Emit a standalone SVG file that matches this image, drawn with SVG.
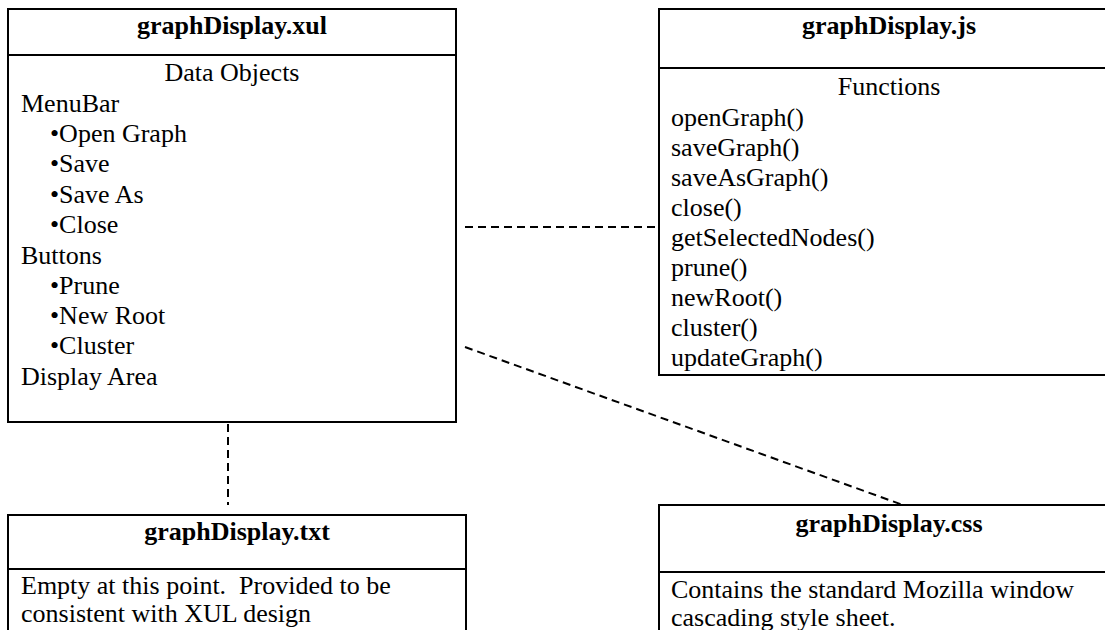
<svg xmlns="http://www.w3.org/2000/svg" width="1105" height="630" viewBox="0 0 1105 630">
  <style>
    .box { fill: #ffffff; stroke: #000000; stroke-width: 2; }
    .div { stroke: #000000; stroke-width: 2; }
    .title { font-family: "Liberation Serif", "Times New Roman", serif; font-size: 26px; font-weight: bold; fill: #000000; text-anchor: middle; }
    .body { font-family: "Liberation Serif", "Times New Roman", serif; font-size: 26px; fill: #000000; }
    .center { text-anchor: middle; }
    .dep { fill: none; stroke: #000000; stroke-width: 2; stroke-dasharray: 8 5; }
  </style>
  <rect width="1105" height="630" fill="#ffffff"/>

  <!-- dependency connectors -->
  <g id="connectors">
    <line class="dep" x1="465" y1="227" x2="659" y2="227"/>
    <line class="dep" x1="228" y1="424" x2="228" y2="505"/>
    <line class="dep" x1="465" y1="347" x2="903" y2="505"/>
  </g>

  <!-- graphDisplay.xul -->
  <g id="node-xul">
    <rect class="box" x="8" y="9" width="448" height="413"/>
    <line class="div" x1="8" y1="55" x2="456" y2="55"/>
    <text class="title" x="232" y="34">graphDisplay.xul</text>
    <text class="body center" x="232" y="81">Data Objects</text>
    <text class="body" x="21" y="112">MenuBar</text>
    <text class="body" x="50" y="142">•Open Graph</text>
    <text class="body" x="50" y="172">•Save</text>
    <text class="body" x="50" y="203">•Save As</text>
    <text class="body" x="50" y="233">•Close</text>
    <text class="body" x="21" y="264">Buttons</text>
    <text class="body" x="50" y="294">•Prune</text>
    <text class="body" x="50" y="324">•New Root</text>
    <text class="body" x="50" y="354">•Cluster</text>
    <text class="body" x="21" y="385">Display Area</text>
  </g>

  <!-- graphDisplay.js -->
  <g id="node-js">
    <rect class="box" x="659" y="9" width="459" height="366"/>
    <line class="div" x1="659" y1="68" x2="1118" y2="68"/>
    <text class="title" x="889" y="34">graphDisplay.js</text>
    <text class="body center" x="889" y="95">Functions</text>
    <text class="body" x="671" y="126">openGraph()</text>
    <text class="body" x="671" y="156">saveGraph()</text>
    <text class="body" x="671" y="186">saveAsGraph()</text>
    <text class="body" x="671" y="216">close()</text>
    <text class="body" x="671" y="246">getSelectedNodes()</text>
    <text class="body" x="671" y="276">prune()</text>
    <text class="body" x="671" y="306">newRoot()</text>
    <text class="body" x="671" y="336">cluster()</text>
    <text class="body" x="671" y="366">updateGraph()</text>
  </g>

  <!-- graphDisplay.txt -->
  <g id="node-txt">
    <rect class="box" x="8" y="515" width="458" height="130"/>
    <line class="div" x1="8" y1="569" x2="466" y2="569"/>
    <text class="title" x="237" y="540">graphDisplay.txt</text>
    <text class="body" x="21" y="594" xml:space="preserve">Empty at this point.  Provided to be</text>
    <text class="body" x="21" y="622">consistent with XUL design</text>
  </g>

  <!-- graphDisplay.css -->
  <g id="node-css">
    <rect class="box" x="659" y="505" width="459" height="140"/>
    <line class="div" x1="659" y1="572" x2="1118" y2="572"/>
    <text class="title" x="889" y="532">graphDisplay.css</text>
    <text class="body" x="671" y="598">Contains the standard Mozilla window</text>
    <text class="body" x="671" y="626">cascading style sheet.</text>
  </g>
</svg>
